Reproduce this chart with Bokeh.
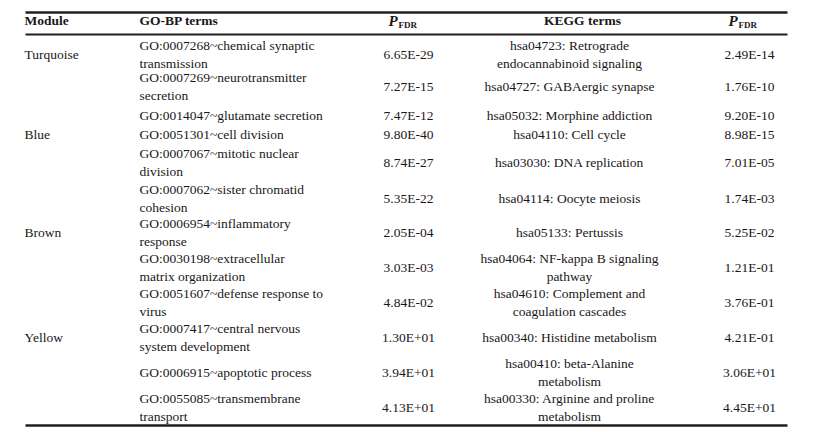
from bokeh.plotting import figure
from bokeh.models import Range1d, ColumnDataSource
from bokeh.core.properties import value
from bokeh.embed import file_html
from bokeh.resources import INLINE

# ---- data ----
modules = ["Turquoise", "Blue", "Brown", "Yellow"]
module_first_row = [0, 3, 6, 9]

go_terms = [
    "GO:0007268~chemical synaptic\ntransmission",
    "GO:0007269~neurotransmitter\nsecretion",
    "GO:0014047~glutamate secretion",
    "GO:0051301~cell division",
    "GO:0007067~mitotic nuclear\ndivision",
    "GO:0007062~sister chromatid\ncohesion",
    "GO:0006954~inflammatory\nresponse",
    "GO:0030198~extracellular\nmatrix organization",
    "GO:0051607~defense response to\nvirus",
    "GO:0007417~central nervous\nsystem development",
    "GO:0006915~apoptotic process",
    "GO:0055085~transmembrane\ntransport",
]
go_p = ["6.65E-29", "7.27E-15", "7.47E-12", "9.80E-40", "8.74E-27", "5.35E-22",
        "2.05E-04", "3.03E-03", "4.84E-02", "1.30E+01", "3.94E+01", "4.13E+01"]
kegg_terms = [
    "hsa04723: Retrograde\nendocannabinoid signaling",
    "hsa04727: GABAergic synapse",
    "hsa05032: Morphine addiction",
    "hsa04110: Cell cycle",
    "hsa03030: DNA replication",
    "hsa04114: Oocyte meiosis",
    "hsa05133: Pertussis",
    "hsa04064: NF-kappa B signaling\npathway",
    "hsa04610: Complement and\ncoagulation cascades",
    "hsa00340: Histidine metabolism",
    "hsa00410: beta-Alanine\nmetabolism",
    "hsa00330: Arginine and proline\nmetabolism",
]
kegg_p = ["2.49E-14", "1.76E-10", "9.20E-10", "8.98E-15", "7.01E-05", "1.74E-03",
          "5.25E-02", "1.21E-01", "3.76E-01", "4.21E-01", "3.06E+01", "4.45E+01"]
headers = ["Module", "GO-BP terms", "KEGG terms"]

# ---- layout (pixel coordinates of the table) ----
row_y = [54, 86, 115, 134, 162, 198, 232, 267, 302, 337, 372, 407]
x_module, x_go, x_gop, x_kegg, x_keggp = 24, 139, 408, 569, 749
FONT = value("Liberation Serif")
TXT = "#1a1718"
FS = "13.5px"
LH = 1.2

W, H = 813, 428
p = figure(width=W, height=H, output_backend="svg", toolbar_location=None,
           x_range=Range1d(0, W), y_range=Range1d(H, 0),
           min_border=0, outline_line_color=None)
p.axis.visible = False
p.grid.visible = False
p.background_fill_color = "white"
p.border_fill_color = "white"

# rules
for ry, lw in [(12, 2.5), (34, 2.0), (425, 2.5)]:
    p.line(x=[25, 787], y=[ry, ry], line_color="#231f20", line_width=lw)

# headers
p.text(x=[x_module, x_go], y=[20, 20], text=headers[:2], text_font=FONT,
       text_font_style="bold", text_font_size=FS, text_color=TXT,
       text_align="left", text_baseline="middle")
p.text(x=[582], y=[20], text=[headers[2]], text_font=FONT,
       text_font_style="bold", text_font_size=FS, text_color=TXT,
       text_align="center", text_baseline="middle")
p.text(x=[388, 728], y=[20, 20], text=["P", "P"], text_font=FONT,
       text_font_style="bold italic", text_font_size="15px", text_color=TXT,
       text_align="left", text_baseline="middle")
p.text(x=[398, 738], y=[24, 24], text=["FDR", "FDR"], text_font=FONT,
       text_font_style="bold", text_font_size="9px", text_color=TXT,
       text_align="left", text_baseline="middle")

# module names
p.text(x=[x_module] * len(modules), y=[row_y[i] for i in module_first_row],
       text=modules, text_font=FONT, text_font_size=FS, text_color=TXT,
       text_align="left", text_baseline="middle")

src = ColumnDataSource(dict(y=row_y, go=go_terms, gop=go_p, kegg=kegg_terms, keggp=kegg_p))
p.text(x=x_go, y="y", text="go", source=src, text_font=FONT, text_font_size=FS,
       text_color=TXT, text_align="left", text_baseline="middle", text_line_height=LH)
p.text(x=x_gop, y="y", text="gop", source=src, text_font=FONT, text_font_size=FS,
       text_color=TXT, text_align="center", text_baseline="middle")
p.text(x=x_kegg, y="y", text="kegg", source=src, text_font=FONT, text_font_size=FS,
       text_color=TXT, text_align="center", text_baseline="middle", text_line_height=LH)
p.text(x=x_keggp, y="y", text="keggp", source=src, text_font=FONT, text_font_size=FS,
       text_color=TXT, text_align="center", text_baseline="middle")

open("out.html", "w").write(file_html(p, INLINE))
